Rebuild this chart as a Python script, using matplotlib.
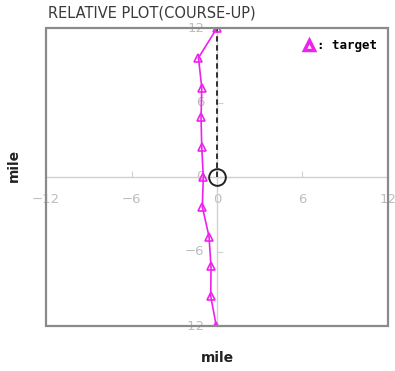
import matplotlib
matplotlib.use('Agg')
import matplotlib.pyplot as plt
from matplotlib.patches import Rectangle

# relative track of the target (mile)
target_x = [0.0, -1.3, -1.07, -1.12, -1.07, -0.96, -1.03, -0.56, -0.42, -0.44, -0.05]
target_y = [12.0, 9.6, 7.2, 4.8, 2.4, 0.0, -2.4, -4.8, -7.2, -9.6, -12.0]
own_x = [0.0, 0.0]
own_y = [0.0, 12.0]
ticks = [-12, -6, 0, 6, 12]
tick_labels = ['\u221212', '\u22126', '0', '6', '12']

fig = plt.figure(figsize=(3.95, 3.71), dpi=100)
ax = fig.add_axes([46 / 395, 45 / 371, 342 / 395, 298 / 371])
ax.set_xlim(-12, 12)
ax.set_ylim(-12, 12)

for side in ('top', 'right'):
    ax.spines[side].set_visible(False)
for side in ('left', 'bottom'):
    ax.spines[side].set_position('zero')
    ax.spines[side].set_color('#d0d0d0')
    ax.spines[side].set_linewidth(1.0)

ax.add_patch(Rectangle((0, 0), 1, 1, transform=ax.transAxes, fill=False,
                       edgecolor='#8a8a8a', linewidth=1.6, clip_on=False, zorder=5))

ax.set_xticks(ticks)
ax.set_yticks(ticks)
ax.tick_params(direction='in', length=4, color='#d0d0d0',
               labelbottom=False, labelleft=False)

# tick labels drawn along the centre axes
for t, lab in zip(ticks, tick_labels):
    ax.annotate(lab, (t, 0), xytext=(0, -16), textcoords='offset points',
                ha='center', va='center', fontsize=9.5, color='#bdbdbd',
                annotation_clip=False, zorder=2)
    ax.annotate(lab, (0, t), xytext=(-9, 0), textcoords='offset points',
                ha='right', va='center', fontsize=9.5, color='#bdbdbd',
                annotation_clip=False, zorder=2)

ax.plot(own_x, own_y, color='#222222', linestyle=(0, (3, 2)), linewidth=1.3, zorder=3)
ax.plot([0], [0], marker='o', markersize=12, markerfacecolor='none',
        markeredgecolor='#222222', markeredgewidth=1.4, linestyle='none', zorder=4)

ax.plot(target_x, target_y, color='#ee22ee', linewidth=1.2, marker='^',
        markersize=6, markerfacecolor='none', markeredgecolor='#ee22ee',
        markeredgewidth=1.2, label=': target', zorder=4)

leg = ax.legend(loc='upper right', frameon=False, handlelength=0.6, handletextpad=0.3,
                prop={'family': 'DejaVu Sans Mono', 'weight': 'bold', 'size': 9})
for h in leg.legend_handles:
    h.set_markerfacecolor('none')
    h.set_markersize(7)
    h.set_markeredgewidth(2.5)
    h.set_linestyle('none')

fig.text(48 / 395, 1 - 13 / 371, 'RELATIVE PLOT(COURSE-UP)', fontsize=10.5,
         color='#3a3a3a', va='center', ha='left')
fig.text(217 / 395, 1 - 358 / 371, 'mile', fontsize=10, fontweight='bold',
         color='#222222', ha='center', va='center')
fig.text(14 / 395, 1 - 165 / 371, 'mile', fontsize=10, fontweight='bold',
         color='#222222', ha='center', va='center', rotation=90)

fig.savefig('out.png', dpi=100, facecolor='white')
